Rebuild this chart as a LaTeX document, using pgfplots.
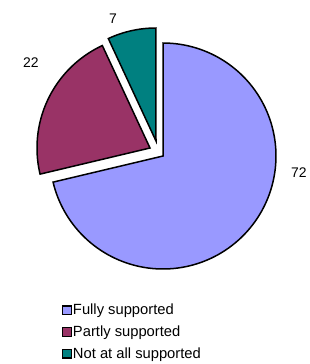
\documentclass[border=0pt]{standalone}
\usepackage{pgfplots}
\pgfplotsset{compat=1.18}
\usepackage{fontspec}
\setmainfont{Liberation Sans}
\definecolor{lav}{HTML}{9999FF}
\definecolor{mar}{HTML}{993366}
\definecolor{tea}{HTML}{008080}
\begin{document}
\begin{tikzpicture}
% pie values
\def\vA{72}\def\vB{22}\def\vC{7}
\pgfmathsetmacro\tot{\vA+\vB+\vC}
\pgfmathsetmacro\aA{90}
\pgfmathsetmacro\aB{\aA-\vA/\tot*360}
\pgfmathsetmacro\aC{\aB-\vB/\tot*360}
\pgfmathsetmacro\aD{\aC-\vC/\tot*360}
\useasboundingbox (0,0) rectangle (310bp,364bp);
\begin{axis}[at={(0,0)}, anchor=south west, width=310bp, height=364bp,
  scale only axis, xmin=0, xmax=310, ymin=0, ymax=364, y dir=reverse,
  hide axis, clip=false,
  legend style={at={(axis cs:62,303)}, anchor=north west, draw=none, fill=none,
    font=\fontsize{14.8}{17}\selectfont, inner sep=0pt, row sep=7.5bp,
    nodes={inner sep=1bp}, cells={anchor=west}},
  legend image code/.code={\draw[#1, draw=black, line width=1.2bp] (0bp,-4.3bp) rectangle (8.6bp,4.3bp);},
  every axis plot/.append style={line width=1.5bp, draw=black, samples=120, variable=\t}]
\addplot[fill=lav, domain=\aB:\aA] ({163+113*cos(t)}, {156-113*sin(t)}) -- (axis cs:163,156) -- cycle;
\addlegendentry{Fully supported}
\addplot[fill=mar, domain=\aC:\aB] ({150+113*cos(t)}, {148-113*sin(t)}) -- (axis cs:150,148) -- cycle;
\addlegendentry{Partly supported}
\addplot[fill=tea, domain=\aD:\aC] ({156+113*cos(t)}, {141-113*sin(t)}) -- (axis cs:156,141) -- cycle;
\addlegendentry{Not at all supported}
\node[font=\fontsize{14}{16}\selectfont] at (axis cs:299,173) {72};
\node[font=\fontsize{14}{16}\selectfont] at (axis cs:31,62.5) {22};
\node[font=\fontsize{14}{16}\selectfont] at (axis cs:113,19) {7};
\end{axis}
\end{tikzpicture}
\end{document}
